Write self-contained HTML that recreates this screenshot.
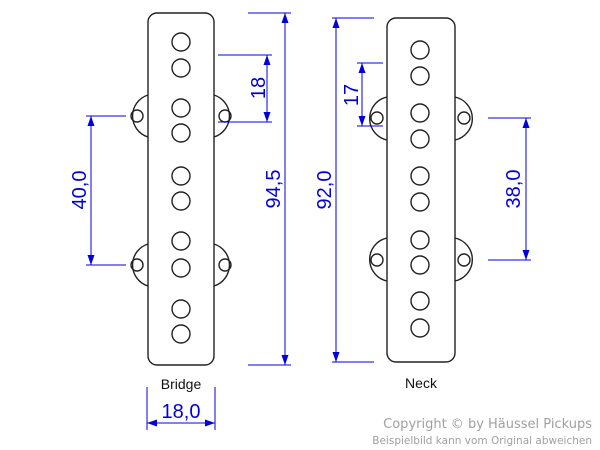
<!DOCTYPE html>
<html><head><meta charset="utf-8"><style>
html,body{margin:0;padding:0;background:#fff;width:600px;height:450px;overflow:hidden}
</style></head><body>
<svg width="600" height="450" viewBox="0 0 600 450" xmlns="http://www.w3.org/2000/svg">
<defs>
<marker id="a" viewBox="0 0 10 10" refX="10" refY="5" markerWidth="10" markerHeight="10" markerUnits="userSpaceOnUse" orient="auto-start-reverse"><path d="M0,1.5 L10,5 L0,8.5 z" fill="#0000dd"/></marker>
</defs>
<g fill="none" stroke="#222" stroke-width="1.4">
<path d="M148,95 A22,22 0 0 0 148,137"/><circle cx="137" cy="116" r="6"/>
<path d="M214,95 A22,22 0 0 1 214,137"/><circle cx="225" cy="116" r="6"/>
<path d="M148,244 A22,22 0 0 0 148,286"/><circle cx="137" cy="265" r="6"/>
<path d="M214,244 A22,22 0 0 1 214,286"/><circle cx="225" cy="265" r="6"/>
<rect x="148" y="13" width="66" height="352" rx="9" fill="#fff"/>
<circle cx="181" cy="42" r="9"/><circle cx="181" cy="68" r="9"/>
<circle cx="181" cy="108" r="9"/><circle cx="181" cy="133" r="9"/>
<circle cx="181" cy="176" r="9"/><circle cx="181" cy="201" r="9"/>
<circle cx="181" cy="241" r="9"/><circle cx="181" cy="268" r="9"/>
<circle cx="181" cy="309" r="9"/><circle cx="181" cy="334" r="9"/>
<path d="M387,97 A22,22 0 0 0 387,140"/><circle cx="377" cy="118" r="6"/>
<path d="M455,97 A22,22 0 0 1 455,140"/><circle cx="464" cy="118" r="6"/>
<path d="M387,238 A22,22 0 0 0 387,281"/><circle cx="377" cy="260" r="6"/>
<path d="M455,238 A22,22 0 0 1 455,281"/><circle cx="464" cy="260" r="6"/>
<rect x="387" y="18" width="68" height="344" rx="9" fill="#fff"/>
<circle cx="420" cy="50" r="9"/><circle cx="420" cy="76" r="9"/>
<circle cx="420" cy="113" r="9"/><circle cx="420" cy="139" r="9"/>
<circle cx="420" cy="176" r="9"/><circle cx="420" cy="202" r="9"/>
<circle cx="420" cy="240" r="9"/><circle cx="420" cy="265" r="9"/>
<circle cx="420" cy="301" r="9"/><circle cx="420" cy="328" r="9"/>
</g>
<g stroke="#0000dd" stroke-width="1" fill="none">
<line x1="218" y1="55" x2="272" y2="55"/><line x1="218" y1="122" x2="272" y2="122"/>
<line x1="267" y1="55" x2="267" y2="122" marker-start="url(#a)" marker-end="url(#a)"/>
<line x1="248" y1="13" x2="291" y2="13"/><line x1="248" y1="365" x2="291" y2="365"/>
<line x1="285" y1="13" x2="285" y2="365" marker-start="url(#a)" marker-end="url(#a)"/>
<line x1="86" y1="116" x2="126" y2="116"/><line x1="86" y1="265" x2="126" y2="265"/>
<line x1="91" y1="116" x2="91" y2="265" marker-start="url(#a)" marker-end="url(#a)"/>
<line x1="147" y1="387" x2="147" y2="430"/><line x1="215" y1="387" x2="215" y2="430"/>
<line x1="147" y1="423" x2="215" y2="423" marker-start="url(#a)" marker-end="url(#a)"/>
<line x1="332" y1="18" x2="374" y2="18"/><line x1="332" y1="362" x2="374" y2="362"/>
<line x1="336" y1="18" x2="336" y2="362" marker-start="url(#a)" marker-end="url(#a)"/>
<line x1="357" y1="63" x2="383" y2="63"/><line x1="357" y1="126" x2="383" y2="126"/>
<line x1="362" y1="63" x2="362" y2="126" marker-start="url(#a)" marker-end="url(#a)"/>
<line x1="488" y1="118" x2="531" y2="118"/><line x1="488" y1="260" x2="531" y2="260"/>
<line x1="526" y1="118" x2="526" y2="260" marker-start="url(#a)" marker-end="url(#a)"/>
</g>
<g fill="#0000dd" font-family="Liberation Sans, sans-serif" font-size="20" text-anchor="middle">
<text transform="translate(265,88) rotate(-90)">18</text>
<text transform="translate(280,189) rotate(-90)">94,5</text>
<text transform="translate(86,190) rotate(-90)">40,0</text>
<text transform="translate(331,190) rotate(-90)">92,0</text>
<text transform="translate(358,95) rotate(-90)">17</text>
<text transform="translate(520,189) rotate(-90)">38,0</text>
<text x="181" y="418">18,0</text>
</g>
<g fill="#111" font-family="Liberation Sans, sans-serif" font-size="14" text-anchor="middle">
<text x="181" y="389">Bridge</text>
<text x="421" y="388">Neck</text>
</g>
<g fill="#a0a0a0" font-family="DejaVu Sans, sans-serif" text-anchor="end">
<text x="592" y="428" font-size="13">Copyright © by Häussel Pickups</text>
<text x="592" y="444" font-size="10.5">Beispielbild kann vom Original abweichen</text>
</g>
</svg>
</body></html>
